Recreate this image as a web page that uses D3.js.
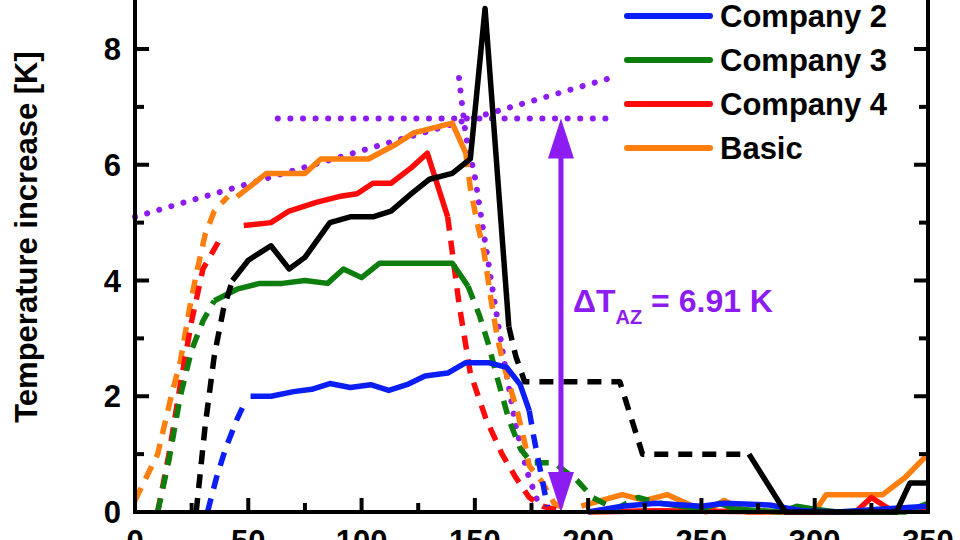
<!DOCTYPE html>
<html><head><meta charset="utf-8">
<script src="https://cdn.jsdelivr.net/npm/d3@7"></script>
<style>body{margin:0;background:#fff}svg{font-family:Arial,"Liberation Sans",sans-serif;font-weight:bold}</style>
</head><body><svg id="c" width="960" height="540"></svg>
<script>
const xTicks=[0,50,100,150,200,250,300,350];
const yTicks=[0,2,4,6,8];
const company1=[
 ["dash",[[27,0],[31,1.5],[35,2.7],[39,3.5],[43,4.0]]],
 ["solid",[[43,4.0],[50,4.35],[60,4.6],[68,4.2],[75,4.4],[86,5.0],[95,5.1],[105,5.1],[113,5.2],[122,5.5],[130,5.75],[140,5.85],[148,6.1],[154.5,8.7],[165,3.2]]],
 ["dash",[[165,3.2],[168,2.7],[172,2.25],[214,2.25],[224,1.0],[271,1.0]]],
 ["solid",[[271,1.0],[287,0],[336,0],[342,0.5],[350,0.5]]]];
const company2=[
 ["dash",[[32,0],[36,0.6],[40,1.1],[45,1.6],[48,1.85]]],
 ["solid",[[51,2.0],[60,2.0],[70,2.08],[78,2.12],[86,2.22],[95,2.15],[104,2.2],[112,2.1],[120,2.2],[128,2.35],[138,2.4],[146,2.58],[156,2.58],[164,2.5],[170,2.2],[174,1.75]]],
 ["dash",[[174,1.75],[176,1.3],[178,0.9],[180,0.5],[182,0.1]]],
 ["solid",[[200,0],[215,0.1],[230,0.15],[250,0.1],[260,0.15],[280,0.12],[295,0.02],[310,0],[330,0.05],[350,0.1]]]];
const company3=[
 ["dash",[[10,0],[15,0.9],[20,2.0],[25,2.8],[30,3.3],[35,3.65]]],
 ["solid",[[35,3.65],[45,3.85],[55,3.95],[65,3.95],[75,4.0],[85,3.95],[92,4.2],[100,4.05],[108,4.3],[140,4.3],[147,3.9]]],
 ["dash",[[147,3.9],[152,3.4],[156,2.9],[160,2.3],[165,1.6],[170,1.1],[175,0.85],[185,0.85],[195,0.55],[202,0.25],[212,0.05],[222,0.25],[232,0.15]]],
 ["solid",[[232,0.15],[250,0.05],[258,0.15],[265,0.05],[285,0],[292,0.1],[300,0.05],[310,0],[340,0],[350,0.15]]]];
const company4=[
 ["dash",[[10,0],[15,1.0],[20,2.2],[25,3.3],[30,4.2],[38,4.75]]],
 ["solid",[[48,4.95],[60,5.0],[68,5.2],[80,5.35],[90,5.45],[98,5.5],[105,5.68],[113,5.68],[122,5.95],[129,6.2],[138,5.1]]],
 ["dash",[[138,5.1],[143,3.6],[148,2.4],[155,1.6],[162,1.0],[168,0.6],[174,0.25],[180,0.1],[190,0.0]]],
 ["solid",[[200,0],[230,0.02],[300,0],[318,0],[325,0.25],[335,0],[350,0.05]]]];
const basic=[
 ["dash",[[0,0.2],[5,0.6],[10,1.0],[16,2.0],[20,2.6],[24,3.5],[27,4.1],[31,4.8],[35,5.2],[41,5.45]]],
 ["solid",[[45,5.45],[50,5.6],[58,5.85],[75,5.85],[82,6.1],[103,6.1],[115,6.35],[123,6.55],[140,6.72],[146,6.2]]],
 ["dash",[[146,6.2],[148,5.6],[151,5.0],[154,4.5],[157,3.7],[160,3.0],[163,2.5],[166,2.1],[169,1.7],[172,1.2],[174,0.8],[180,0.5],[185,0.15],[190,0.05]]],
 ["solid",[[197,0.1],[215,0.3],[225,0.2],[235,0.3],[252,0],[260,0.2],[270,0],[290,0],[300,0],[305,0.3],[330,0.3],[340,0.6],[350,1.0]]]];
const seriesNames=["Company 1","Company 2","Company 3","Company 4","Basic"];
const seriesColors=["#000","#0a1ef5","#0d7d0d","#ff0a0a","#ff7f0e"];
const seriesData=[company1,company2,company3,company4,basic];
const slopeLine=[[0,5.1],[210,7.5]];
const levelLine=[[63,6.8],[210,6.8]];
const dropLine=[[143,7.5],[146,6.5],[150,5.8],[154,4.8],[158,3.8],[163,2.6],[168,1.5],[173,0.7],[178,0.15]];
const arrowX=188, arrowTop=6.8;
const purple="#8c1cf2";

const svg=d3.select("#c");
const L=135,R=928,T=-20,B=512;
const x=d3.scaleLinear().domain([0,350]).range([L,R]);
const y=d3.scaleLinear().domain([0,8]).range([B,49]);
const line=d3.line().x(d=>x(d[0])).y(d=>y(d[1]));

[slopeLine,levelLine,dropLine].forEach(p=>svg.append("path").attr("d",line(p)).attr("fill","none")
 .attr("stroke",purple).attr("stroke-width",6).attr("stroke-linecap","round").attr("stroke-dasharray","0.1 12.5"));

[4,3,2,1,0].forEach(i=>{
 seriesData[i].forEach(([st,pts])=>{
  svg.append("path").attr("d",line(pts)).attr("fill","none").attr("stroke",seriesColors[i])
   .attr("stroke-width",5.5).attr("stroke-linejoin","round")
   .attr("stroke-dasharray",st==="dash"?"14 10":null);
 });
});

const ax=x(arrowX);
svg.append("line").attr("x1",ax).attr("x2",ax).attr("y1",y(arrowTop)+30).attr("y2",y(0)-30).attr("stroke",purple).attr("stroke-width",5);
svg.append("path").attr("d",`M${ax},${y(arrowTop)} L${ax-13},${y(arrowTop)+40} L${ax+13},${y(arrowTop)+40}Z`).attr("fill",purple);
svg.append("path").attr("d",`M${ax},${y(0)} L${ax-13},${y(0)-40} L${ax+13},${y(0)-40}Z`).attr("fill",purple);
const t=svg.append("text").attr("x",573).attr("y",312).attr("fill",purple).attr("font-size",32);
t.append("tspan").text("\u0394T");
t.append("tspan").attr("font-size",20).attr("dy",12).text("AZ");
t.append("tspan").attr("dy",-12).text(" = 6.91 K");

const g=svg.append("g");
g.append("path").attr("d",`M${L},${T}V${B}H${R}V${T}`).attr("fill","none").attr("stroke","#000").attr("stroke-width",4);
const yMinor=d3.range(1,9,2), xMinor=d3.range(25,350,50);
yTicks.forEach(v=>{g.append("line").attr("x1",L).attr("x2",L+14).attr("y1",y(v)).attr("y2",y(v)).attr("stroke","#000").attr("stroke-width",4);
 g.append("line").attr("x1",R).attr("x2",R-14).attr("y1",y(v)).attr("y2",y(v)).attr("stroke","#000").attr("stroke-width",4);
 g.append("text").attr("x",L-14).attr("y",y(v)+11).attr("text-anchor","end").attr("font-size",31).text(v);});
yMinor.forEach(v=>{g.append("line").attr("x1",L).attr("x2",L+9).attr("y1",y(v)).attr("y2",y(v)).attr("stroke","#000").attr("stroke-width",4);
 g.append("line").attr("x1",R).attr("x2",R-9).attr("y1",y(v)).attr("y2",y(v)).attr("stroke","#000").attr("stroke-width",4);});
xTicks.forEach(v=>{g.append("line").attr("x1",x(v)).attr("x2",x(v)).attr("y1",B).attr("y2",B-14).attr("stroke","#000").attr("stroke-width",4);
 g.append("text").attr("x",x(v)).attr("y",B+40).attr("text-anchor","middle").attr("font-size",31).text(v);});
xMinor.forEach(v=>g.append("line").attr("x1",x(v)).attr("x2",x(v)).attr("y1",B).attr("y2",B-9).attr("stroke","#000").attr("stroke-width",4));
svg.append("text").attr("transform","translate(37,237) rotate(-90)").attr("text-anchor","middle").attr("font-size",31).text("Temperature increase [K]");

seriesNames.forEach((n,i)=>{
 const yy=16+(i-1)*44;
 svg.append("line").attr("x1",627).attr("x2",710).attr("y1",yy).attr("y2",yy).attr("stroke",seriesColors[i]).attr("stroke-width",6).attr("stroke-linecap","round");
 svg.append("text").attr("x",720).attr("y",yy+11).attr("font-size",31).text(n);
});
</script></body></html>
